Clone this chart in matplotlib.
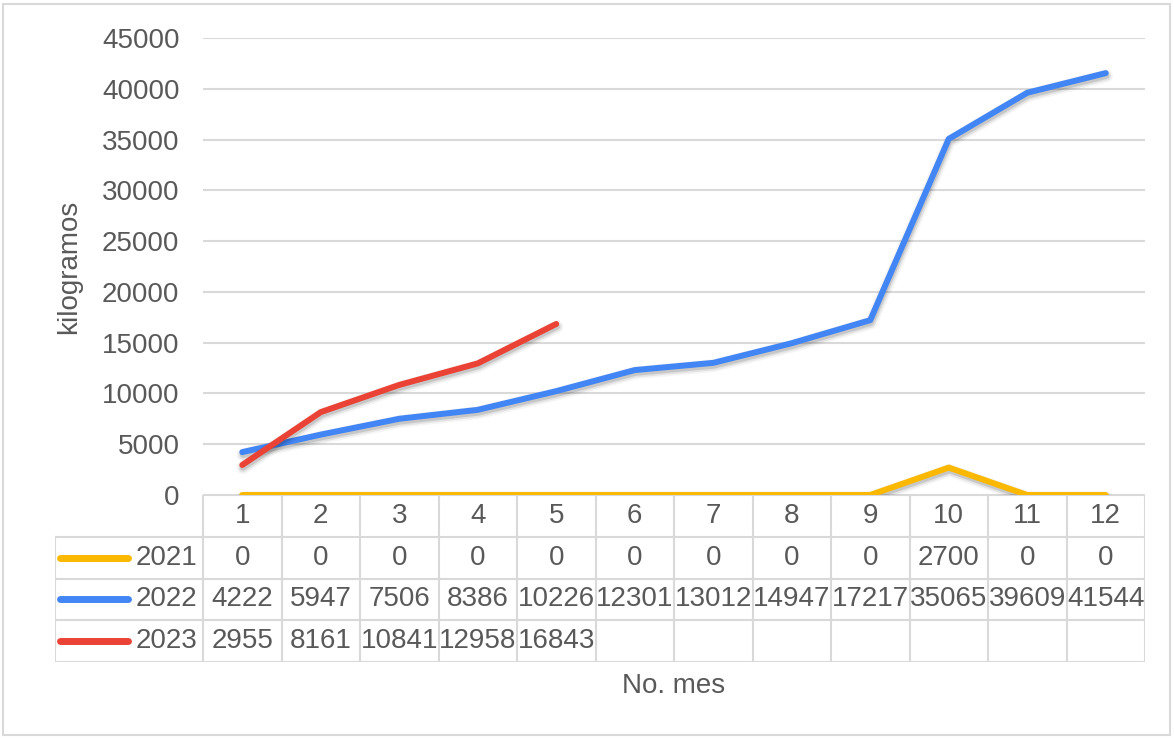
import matplotlib.pyplot as plt
import matplotlib.patheffects as pe
from matplotlib.patches import Rectangle

plt.rcParams['font.family'] = ['Liberation Sans', 'DejaVu Sans']

months = [1, 2, 3, 4, 5, 6, 7, 8, 9, 10, 11, 12]
years = ['2021', '2022', '2023']
kg_2021 = [0, 0, 0, 0, 0, 0, 0, 0, 0, 2700, 0, 0]
kg_2022 = [4222, 5947, 7506, 8386, 10226, 12301, 13012, 14947, 17217, 35065, 39609, 41544]
kg_2023 = [2955, 8161, 10841, 12958, 16843]
series = [kg_2021, kg_2022, kg_2023]
colors = ['#FBB800', '#4285F4', '#EA4335']

grey_txt = '#595959'
grid_c = '#D9D9D9'
fs = 20

W, H = 1174, 738
fig = plt.figure(figsize=(W / 100, H / 100), dpi=100)

# outer chart border
fig.patches.append(Rectangle((3 / W, 3 / H), 1167 / W, 731 / H, transform=fig.transFigure,
                             fill=False, edgecolor=grid_c, lw=1.5))

x0, x1, y0, y1 = 203, 1145, 495, 38
ax = fig.add_axes([x0 / W, (H - y0) / H, (x1 - x0) / W, (y0 - y1) / H])
ax.set_xlim(0.5, 12.5)
ax.set_ylim(0, 45000)
ax.set_yticks(range(0, 45001, 5000))
ax.set_xticks([])
ax.tick_params(axis='y', length=0, pad=17, labelsize=fs, labelcolor=grey_txt)
ax.grid(axis='y', color=grid_c, lw=1.5)
ax.set_axisbelow(True)
for s in ax.spines.values():
    s.set_visible(False)
ax.set_ylabel('kilogramos', fontsize=fs, color=grey_txt, labelpad=14)

# soft drop shadow under each line
lw_line = 4.3
shadow = [
    pe.Stroke(linewidth=lw_line + 5, foreground='#000000', alpha=0.04, offset=(0.5, -2)),
    pe.Stroke(linewidth=lw_line + 2.5, foreground='#000000', alpha=0.07, offset=(0.5, -2)),
    pe.Stroke(linewidth=lw_line, foreground='#000000', alpha=0.12, offset=(0.5, -2)),
    pe.Normal(),
]
for vals, c in zip(series, colors):
    ax.plot(months[:len(vals)], vals, color=c, lw=lw_line, solid_capstyle='round',
            solid_joinstyle='round', path_effects=shadow, zorder=3)

# data table under the plot
tx0, ty0, ty1 = 55, 662, 495
col_w = (x1 - x0) / 12
left = 0.5 - (x0 - tx0) / col_w
tab = fig.add_axes([tx0 / W, (H - ty0) / H, (x1 - tx0) / W, (ty0 - ty1) / H])
tab.set_xlim(left, 12.5)
tab.set_ylim(0, 4)
tab.axis('off')

lw = 1.5
tab.plot([0.5, 12.5], [4, 4], color=grid_c, lw=lw)
for y in [3, 2, 1, 0]:
    tab.plot([left, 12.5], [y, y], color=grid_c, lw=lw)
for xb in [m + 0.5 for m in [0] + months]:
    tab.plot([xb, xb], [0, 4], color=grid_c, lw=lw)
tab.plot([left, left], [0, 3], color=grid_c, lw=lw)

for m in months:
    tab.text(m, 3.5, str(m), ha='center', va='center', fontsize=fs, color=grey_txt)

key_a = left + 5 / col_w
key_b = left + 73 / col_w
for i, (yr, vals, c) in enumerate(zip(years, series, colors)):
    yc = 2.5 - i
    tab.plot([key_a, key_b], [yc, yc], color=c, lw=5, solid_capstyle='round')
    tab.text(0.43, yc, yr, ha='right', va='center', fontsize=fs, color=grey_txt)
    for m, v in zip(months, vals):
        tab.text(m, yc, str(v), ha='center', va='center', fontsize=fs, color=grey_txt)

fig.text((x0 + x1) / 2 / W, (H - 686) / H, 'No. mes', ha='center', va='center',
         fontsize=fs, color=grey_txt)

fig.savefig('out.png', dpi=100)
